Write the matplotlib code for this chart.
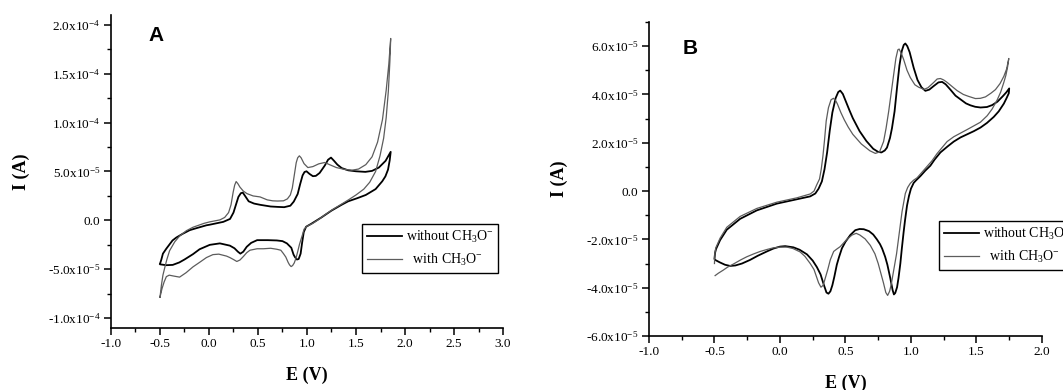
import matplotlib
matplotlib.use("Agg")
import matplotlib.pyplot as plt
from matplotlib.ticker import AutoMinorLocator

plt.rcParams['font.family'] = 'Liberation Serif'
plt.rcParams['mathtext.fontset'] = 'custom'
plt.rcParams['mathtext.rm'] = 'Liberation Serif'
plt.rcParams['mathtext.it'] = 'Liberation Serif:italic'
plt.rcParams['mathtext.bf'] = 'Liberation Serif:bold'

# current values are in units of 1e-5 A, potential in V

# panel A, without CH3O-
a_wo_E = [-0.50, -0.487, -0.47, -0.436, -0.372, -0.333, -0.268, -0.197, -0.130, -0.026,
          0.008, 0.146, 0.215, 0.250, 0.275, 0.300, 0.325, 0.345, 0.375, 0.405,
          0.46, 0.524, 0.629, 0.70, 0.767, 0.83, 0.865, 0.905, 0.93, 0.955,
          0.975, 0.995, 1.026, 1.060, 1.090, 1.129, 1.181, 1.215, 1.245, 1.275,
          1.310, 1.354, 1.420, 1.500, 1.595, 1.664, 1.733, 1.802, 1.854,
          1.844, 1.827, 1.80, 1.768, 1.70, 1.60, 1.513, 1.42, 1.354, 1.25,
          1.147, 1.043, 0.991, 0.967, 0.950, 0.935, 0.915, 0.897, 0.877, 0.863,
          0.840, 0.795, 0.750, 0.692, 0.60, 0.491, 0.430, 0.385, 0.350, 0.320,
          0.295, 0.260, 0.213, 0.111, 0.008, -0.096, -0.163, -0.25, -0.303, -0.370,
          -0.436, -0.493]
a_wo_I = [-4.44, -4.04, -3.4, -2.9, -2.05, -1.75, -1.37, -1.0, -0.8, -0.5,
          -0.44, -0.15, 0.15, 0.8, 1.6, 2.4, 2.78, 2.84, 2.4, 1.95,
          1.72, 1.59, 1.42, 1.38, 1.35, 1.5, 1.92, 2.7, 3.7, 4.6,
          4.95, 5.02, 4.75, 4.52, 4.55, 4.85, 5.6, 6.2, 6.42, 6.1,
          5.7, 5.35, 5.12, 5.02, 4.96, 5.06, 5.4, 6.09, 7.01,
          6.15, 5.2, 4.5, 4.0, 3.2, 2.6, 2.27, 1.95, 1.6, 1.0,
          0.3, -0.35, -0.65, -1.2, -2.3, -3.4, -3.95, -4.0, -3.75, -3.5,
          -2.8, -2.35, -2.12, -2.05, -2.02, -2.02, -2.3, -2.7, -3.2, -3.4,
          -3.2, -2.85, -2.58, -2.35, -2.5, -2.95, -3.45, -4.0, -4.3, -4.55,
          -4.58, -4.5]

# panel A, with CH3O-
a_w_E = [-0.50, -0.485, -0.47, -0.453, -0.43, -0.402, -0.35, -0.30, -0.23, -0.163,
         -0.05, 0.008, 0.111, 0.160, 0.200, 0.225, 0.247, 0.262, 0.277, 0.295,
         0.316, 0.350, 0.387, 0.45, 0.521, 0.594, 0.650, 0.698, 0.760, 0.800,
         0.830, 0.850, 0.870, 0.890, 0.905, 0.922, 0.940, 0.970, 1.009, 1.060,
         1.120, 1.181, 1.230, 1.300, 1.390, 1.457, 1.526, 1.600, 1.664, 1.720,
         1.770, 1.808, 1.835, 1.854,
         1.846, 1.830, 1.808, 1.782, 1.745, 1.700, 1.640, 1.580, 1.500, 1.423,
         1.342, 1.260, 1.180, 1.112, 1.060, 1.000, 0.970, 0.957, 0.940, 0.922,
         0.905, 0.888, 0.870, 0.853, 0.838, 0.822, 0.808, 0.784, 0.760, 0.733,
         0.692, 0.629, 0.555, 0.491, 0.418, 0.385, 0.350, 0.316, 0.284, 0.250,
         0.213, 0.179, 0.100, 0.040, -0.026, -0.090, -0.163, -0.234, -0.30, -0.355,
         -0.406, -0.435, -0.458, -0.480, -0.50]
a_w_I = [-7.86, -6.6, -5.6, -4.9, -4.0, -3.1, -2.2, -1.6, -1.05, -0.7,
         -0.3, -0.15, 0.05, 0.3, 0.8, 1.6, 2.9, 3.6, 3.97, 3.75,
         3.4, 3.0, 2.74, 2.5, 2.4, 2.1, 2.0, 1.98, 2.0, 2.2,
         2.6, 3.3, 4.6, 5.9, 6.4, 6.6, 6.4, 5.8, 5.4, 5.5,
         5.78, 5.92, 5.7, 5.4, 5.2, 5.13, 5.25, 5.7, 6.5, 8.0,
         10.3, 13.3, 16.0, 18.6,
         16.3, 13.2, 10.5, 8.4, 6.6, 5.0, 3.9, 3.2, 2.6, 2.1,
         1.6, 1.1, 0.55, 0.05, -0.3, -0.6, -0.9, -1.37, -1.9, -2.5,
         -3.2, -3.85, -4.35, -4.62, -4.72, -4.55, -4.3, -3.75, -3.4, -3.05,
         -2.95, -2.85, -2.9, -2.9, -3.05, -3.3, -3.7, -4.05, -4.2, -4.0,
         -3.8, -3.65, -3.45, -3.5, -3.8, -4.25, -4.75, -5.35, -5.8, -5.7,
         -5.6, -5.75, -6.3, -7.0, -7.86]

# panel B, without CH3O-
b_wo_E = [-0.50, -0.495, -0.488, -0.457, -0.406, -0.304, -0.177, -0.024, 0.129, 0.231,
          0.270, 0.295, 0.320, 0.340, 0.360, 0.380, 0.400, 0.425, 0.445, 0.460,
          0.480, 0.504, 0.530, 0.556, 0.608, 0.660, 0.712, 0.750, 0.775, 0.800,
          0.817, 0.840, 0.855, 0.875, 0.894, 0.912, 0.930, 0.945, 0.957, 0.972,
          0.990, 1.021, 1.050, 1.080, 1.110, 1.140, 1.174, 1.210, 1.238, 1.265,
          1.301, 1.340, 1.378, 1.420, 1.454, 1.490, 1.531, 1.580, 1.620, 1.660,
          1.700, 1.730, 1.750,
          1.747, 1.730, 1.709, 1.670, 1.632, 1.580, 1.531, 1.480, 1.429, 1.378,
          1.327, 1.280, 1.225, 1.180, 1.148, 1.110, 1.072, 1.040, 1.021, 1.000,
          0.985, 0.970, 0.955, 0.944, 0.930, 0.919, 0.905, 0.894, 0.880, 0.870,
          0.860, 0.842, 0.820, 0.803, 0.780, 0.764, 0.740, 0.712, 0.680, 0.640,
          0.608, 0.575, 0.537, 0.500, 0.473, 0.450, 0.434, 0.415, 0.400, 0.385,
          0.370, 0.355, 0.333, 0.310, 0.282, 0.250, 0.206, 0.150, 0.103, 0.040,
          0.000, -0.050, -0.100, -0.170, -0.228, -0.290, -0.340, -0.381, -0.420, -0.460,
          -0.495]
b_wo_I = [-2.80, -2.55, -2.40, -2.03, -1.60, -1.15, -0.80, -0.52, -0.34, -0.22,
          -0.10, 0.10, 0.40, 0.90, 1.60, 2.50, 3.25, 3.85, 4.10, 4.16,
          4.02, 3.70, 3.35, 3.02, 2.48, 2.07, 1.75, 1.62, 1.60, 1.68,
          1.80, 2.20, 2.60, 3.30, 4.30, 5.20, 5.80, 6.05, 6.11, 6.00,
          5.75, 5.10, 4.60, 4.30, 4.15, 4.20, 4.35, 4.50, 4.52, 4.42,
          4.20, 3.95, 3.80, 3.63, 3.55, 3.49, 3.46, 3.48, 3.56, 3.70,
          3.92, 4.10, 4.25,
          4.05, 3.85, 3.62, 3.30, 3.07, 2.82, 2.63, 2.48, 2.35, 2.22,
          2.05, 1.85, 1.60, 1.30, 1.05, 0.85, 0.62, 0.45, 0.34, 0.10,
          -0.20, -0.60, -1.20, -1.70, -2.40, -3.00, -3.60, -3.98, -4.22, -4.28,
          -4.10, -3.60, -3.05, -2.72, -2.38, -2.20, -2.00, -1.80, -1.66, -1.58,
          -1.57, -1.62, -1.82, -2.10, -2.37, -2.75, -3.05, -3.55, -3.90, -4.15,
          -4.25, -4.20, -3.85, -3.45, -3.15, -2.88, -2.62, -2.43, -2.33, -2.28,
          -2.30, -2.38, -2.50, -2.68, -2.85, -3.00, -3.08, -3.10, -3.05, -2.95,
          -2.85]

# panel B, with CH3O-
b_w_E = [-0.50, -0.497, -0.490, -0.457, -0.406, -0.304, -0.177, -0.024, 0.129, 0.231,
         0.260, 0.280, 0.302, 0.315, 0.328, 0.340, 0.353, 0.370, 0.390, 0.408,
         0.425, 0.439, 0.465, 0.491, 0.521, 0.556, 0.621, 0.686, 0.728, 0.760,
         0.791, 0.810, 0.830, 0.850, 0.868, 0.885, 0.900, 0.910, 0.930, 0.944,
         0.970, 0.995, 1.030, 1.059, 1.100, 1.130, 1.174, 1.200, 1.225, 1.250,
         1.276, 1.320, 1.352, 1.400, 1.440, 1.492, 1.530, 1.569, 1.610, 1.645,
         1.680, 1.709, 1.730, 1.747,
         1.738, 1.725, 1.709, 1.685, 1.658, 1.620, 1.582, 1.530, 1.480, 1.430,
         1.378, 1.327, 1.276, 1.230, 1.199, 1.160, 1.123, 1.085, 1.047, 1.020,
         0.995, 0.975, 0.957, 0.945, 0.932, 0.920, 0.906, 0.890, 0.868, 0.850,
         0.837, 0.822, 0.808, 0.790, 0.770, 0.750, 0.725, 0.690, 0.650, 0.610,
         0.582, 0.550, 0.511, 0.460, 0.434, 0.410, 0.384, 0.365, 0.346, 0.330,
         0.313, 0.295, 0.282, 0.260, 0.231, 0.190, 0.154, 0.100, 0.053, 0.000,
         -0.050, -0.100, -0.151, -0.200, -0.253, -0.300, -0.355, -0.400, -0.432, -0.470,
         -0.495]
b_w_I = [-3.00, -2.60, -2.35, -1.95, -1.50, -1.05, -0.72, -0.46, -0.28, -0.12,
         0.00, 0.25, 0.50, 0.90, 1.45, 2.10, 2.90, 3.45, 3.78, 3.84,
         3.75, 3.60, 3.25, 2.95, 2.65, 2.35, 1.95, 1.67, 1.56, 1.62,
         2.05, 2.60, 3.30, 4.10, 4.80, 5.50, 5.85, 5.88, 5.65, 5.45,
         5.00, 4.70, 4.40, 4.30, 4.21, 4.28, 4.50, 4.64, 4.66, 4.60,
         4.50, 4.30, 4.16, 4.00, 3.92, 3.83, 3.84, 3.90, 4.05, 4.20,
         4.45, 4.75, 5.05, 5.49,
         5.15, 4.80, 4.50, 4.10, 3.77, 3.40, 3.12, 2.85, 2.70, 2.55,
         2.40, 2.25, 2.05, 1.75, 1.55, 1.25, 1.02, 0.78, 0.55, 0.45,
         0.32, 0.15, -0.10, -0.45, -0.85, -1.35, -1.95, -2.60, -3.30, -3.85,
         -4.15, -4.32, -4.20, -3.80, -3.40, -3.00, -2.60, -2.25, -1.98, -1.82,
         -1.75, -1.82, -2.00, -2.30, -2.40, -2.50, -2.85, -3.25, -3.60, -3.90,
         -3.98, -3.80, -3.60, -3.25, -3.00, -2.70, -2.52, -2.38, -2.32, -2.32,
         -2.35, -2.42, -2.50, -2.60, -2.72, -2.85, -3.02, -3.15, -3.27, -3.40,
         -3.50]

a_yticks = [-1e-4, -5e-5, 0.0, 5e-5, 1e-4, 1.5e-4, 2e-4]
a_ylabels = ['-1.0x10$^{-4}$', '-5.0x10$^{-5}$', '0.0', '5.0x10$^{-5}$',
             '1.0x10$^{-4}$', '1.5x10$^{-4}$', '2.0x10$^{-4}$']
a_xticks = [-1.0, -0.5, 0.0, 0.5, 1.0, 1.5, 2.0, 2.5, 3.0]
b_yticks = [-6e-5, -4e-5, -2e-5, 0.0, 2e-5, 4e-5, 6e-5]
b_ylabels = ['-6.0x10$^{-5}$', '-4.0x10$^{-5}$', '-2.0x10$^{-5}$', '0.0',
             '2.0x10$^{-5}$', '4.0x10$^{-5}$', '6.0x10$^{-5}$']
b_xticks = [-1.0, -0.5, 0.0, 0.5, 1.0, 1.5, 2.0]

lab_wo = 'without CH$_3$O$^{-}$'
lab_w = '  with CH$_3$O$^{-}$'

fig = plt.figure(figsize=(10.63, 3.9), dpi=100)
axA = fig.add_axes([0.1044, 0.159, 0.3688, 0.8026])
axB = fig.add_axes([0.6105, 0.1385, 0.3697, 0.8051])


def scale(vals):
    return [v * 1e-5 for v in vals]


def style_axis(ax, xticks, yticks, ylabels):
    for s in ['top', 'right']:
        ax.spines[s].set_visible(False)
    for s in ['left', 'bottom']:
        ax.spines[s].set_linewidth(1.2)
    ax.set_xticks(xticks)
    ax.set_xticklabels(['%.1f' % t for t in xticks])
    ax.set_yticks(yticks)
    ax.set_yticklabels(ylabels)
    ax.xaxis.set_minor_locator(AutoMinorLocator(2))
    ax.yaxis.set_minor_locator(AutoMinorLocator(2))
    ax.tick_params(which='major', direction='out', length=5, width=1.1,
                   labelsize=9.5, pad=2.5)
    ax.tick_params(which='minor', direction='out', length=3, width=1.0)
    ax.set_xlabel('E (V)', fontsize=13, fontweight='bold')
    ax.set_ylabel('I (A)', fontsize=13, fontweight='bold')
    ax.xaxis.set_label_coords(0.5, -0.15)
    ax.xaxis.label.set_va('center')
    ax.yaxis.set_label_coords(-0.228, 0.5)
    ax.yaxis.label.set_va('center')


# panel A
axA.plot(a_wo_E, scale(a_wo_I), color='black', lw=1.3, label=lab_wo)
axA.plot(a_w_E, scale(a_w_I), color='#5c5c5c', lw=0.9, label=lab_w)
axA.set_xlim(-1.0, 3.0)
axA.set_ylim(-1.1e-4, 2.1e-4)
style_axis(axA, a_xticks, a_yticks, a_ylabels)

# panel B
axB.plot(b_wo_E, scale(b_wo_I), color='black', lw=1.3, label=lab_wo)
axB.plot(b_w_E, scale(b_w_I), color='#5c5c5c', lw=0.9, label=lab_w)
axB.set_xlim(-1.0, 2.0)
axB.set_ylim(-6e-5, 7e-5)
style_axis(axB, b_xticks, b_yticks, b_ylabels)

for ax, anchor in [(axA, (362 / 1063, 1 - 224 / 390)), (axB, (939 / 1063, 1 - 221 / 390))]:
    leg = ax.legend(loc='upper left', bbox_to_anchor=anchor, bbox_transform=fig.transFigure,
                    fontsize=10, frameon=True, fancybox=False, framealpha=1,
                    edgecolor='black', handlelength=2.5, handletextpad=0.3,
                    borderpad=0.35, labelspacing=0.5, borderaxespad=0)
    leg.get_frame().set_linewidth(1.0)

fig.text(148 / 1063, 1 - 41 / 390, 'A', family='Liberation Sans', fontweight='bold',
         fontsize=15, va='baseline', ha='left')
fig.text(683 / 1063, 1 - 54 / 390, 'B', family='Liberation Sans', fontweight='bold',
         fontsize=15, va='baseline', ha='left')

fig.savefig('out.png', dpi=100)
